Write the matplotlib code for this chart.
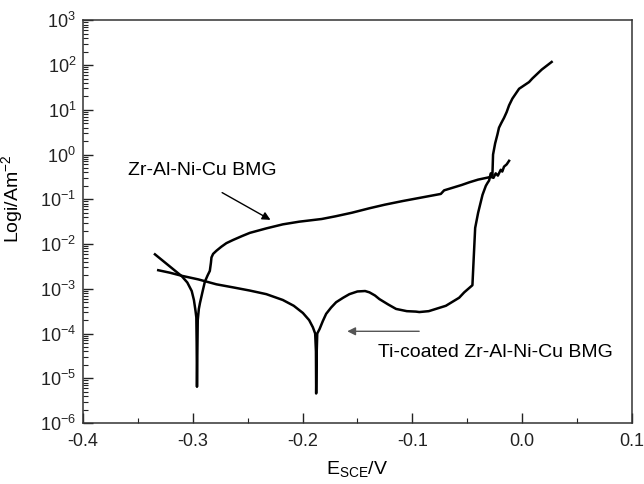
import numpy as np
import matplotlib
matplotlib.use("Agg")
import matplotlib.pyplot as plt

plt.rcParams['font.family'] = ['Liberation Sans', 'DejaVu Sans']
plt.rcParams['mathtext.fontset'] = 'custom'
plt.rcParams['mathtext.rm'] = 'Liberation Sans'
plt.rcParams['mathtext.it'] = 'Liberation Sans:italic'

# Uncoated Zr-Al-Ni-Cu BMG: potential (V vs SCE) and log10(i / A m^-2)
e_bmg = [-0.3345, -0.328, -0.321, -0.315, -0.310, -0.305, -0.301, -0.299, -0.2975,
         -0.2968, -0.2965, -0.2962, -0.2958, -0.2955, -0.2945, -0.2935, -0.291, -0.289,
         -0.2865, -0.2845, -0.2835, -0.283, -0.2815, -0.2785, -0.274, -0.2694, -0.2634,
         -0.255, -0.248, -0.233, -0.218, -0.203, -0.1825, -0.170, -0.155, -0.139, -0.125,
         -0.109, -0.085, -0.074, -0.071, -0.063, -0.055, -0.048, -0.040, -0.0285, -0.026,
         -0.024, -0.022, -0.0194, -0.018, -0.0164, -0.014, -0.0118]
logi_bmg = [-2.23, -2.36, -2.50, -2.62, -2.72, -2.86, -3.05, -3.25, -3.50,
            -3.64, -4.20, -5.19, -4.30, -3.70, -3.45, -3.32, -3.05, -2.84,
            -2.70, -2.60, -2.42, -2.30, -2.22, -2.15, -2.06, -1.98, -1.91,
            -1.82, -1.75, -1.65, -1.56, -1.50, -1.44, -1.38, -1.30, -1.20, -1.12,
            -1.04, -0.93, -0.88, -0.80, -0.74, -0.68, -0.62, -0.56, -0.50, -0.52,
            -0.42, -0.47, -0.34, -0.38, -0.27, -0.22, -0.14]

# Ti-coated Zr-Al-Ni-Cu BMG
e_ti = [-0.3315, -0.321, -0.310, -0.295, -0.2785, -0.263, -0.248, -0.233, -0.218,
        -0.208, -0.1997, -0.194, -0.1906, -0.1885, -0.1878, -0.1876, -0.1872, -0.1866,
        -0.1845, -0.1815, -0.1785, -0.174, -0.1694, -0.163, -0.1573, -0.150, -0.143,
        -0.139, -0.134, -0.130, -0.122, -0.1148, -0.105, -0.0967, -0.0936, -0.085,
        -0.0694, -0.0573, -0.0527, -0.0452, -0.0440, -0.0427, -0.040, -0.036, -0.033,
        -0.0316, -0.030, -0.0285, -0.027, -0.0264, -0.0245, -0.0224, -0.021, -0.019,
        -0.0164, -0.014, -0.0118, -0.0088, -0.0027, 0.0064, 0.0094, 0.018, 0.027]
logi_ti = [-2.585, -2.64, -2.71, -2.79, -2.90, -2.97, -3.04, -3.12, -3.25,
           -3.38, -3.54, -3.70, -3.86, -4.00, -4.40, -5.34, -4.50, -4.00,
           -3.90, -3.72, -3.56, -3.42, -3.30, -3.20, -3.12, -3.06, -3.05,
           -3.08, -3.15, -3.23, -3.35, -3.45, -3.50, -3.51, -3.52, -3.50,
           -3.38, -3.20, -3.08, -2.92, -2.30, -1.64, -1.30, -0.90, -0.70,
           -0.64, -0.58, -0.42, -0.47, 0.00, 0.25, 0.45, 0.60, 0.70,
           0.82, 0.95, 1.10, 1.25, 1.47, 1.62, 1.70, 1.90, 2.07]

label_bmg = "Zr-Al-Ni-Cu BMG"
label_ti = "Ti-coated Zr-Al-Ni-Cu BMG"

fig = plt.figure(figsize=(6.44, 4.84), dpi=100)
ax = fig.add_axes([0.129, 0.126, 0.852, 0.832])

ax.semilogy(e_bmg, 10 ** np.array(logi_bmg), color='black', lw=1.8)
ax.semilogy(e_ti, 10 ** np.array(logi_ti), color='black', lw=1.8)

ax.set_xlim(-0.4, 0.1)
ax.set_ylim(1e-6, 1e3)
ax.set_xticks([-0.4, -0.3, -0.2, -0.1, 0.0, 0.1])
ax.set_xticklabels(['-0.4', '-0.3', '-0.2', '-0.1', '0.0', '0.1'])
ax.set_xticks([-0.35, -0.25, -0.15, -0.05, 0.05], minor=True)
ax.set_yticks([10.0 ** k for k in range(-6, 4)])
ax.yaxis.set_minor_locator(matplotlib.ticker.LogLocator(base=10, subs=np.arange(2, 10), numticks=20))
ax.yaxis.set_minor_formatter(matplotlib.ticker.NullFormatter())

ax.tick_params(which='both', direction='in', top=False, right=False, labelsize=13, colors='#222222')
ax.tick_params(which='major', length=7, width=1)
ax.tick_params(which='minor', length=3.5, width=0.8)
ax.tick_params(axis='x', which='major', pad=7)
ax.tick_params(axis='y', which='major', pad=5)
for s in ax.spines.values():
    s.set_linewidth(1.1)
    s.set_color('#333333')

ax.set_xlabel(r'E$_{\mathregular{SCE}}$/V', fontsize=14, labelpad=7)
ax.set_ylabel(r'Logi/Am$^{\mathregular{-2}}$', fontsize=14)
ax.yaxis.set_label_coords(-0.106, 0.556)

ax.annotate('', xy=(-0.227, 10 ** -1.49), xytext=(-0.2755, 10 ** -0.82),
            arrowprops=dict(arrowstyle='-|>', color='black', lw=1.0, mutation_scale=12))
ax.text(-0.359, 10 ** -0.36, label_bmg, fontsize=14, ha='left', va='center')

ax.annotate('', xy=(-0.1618, 10 ** -3.95), xytext=(-0.0912, 10 ** -3.95),
            arrowprops=dict(arrowstyle='-|>', color='#555555', lw=1.0, mutation_scale=12))
ax.text(-0.1315, 10 ** -4.42, label_ti, fontsize=14, ha='left', va='center')

fig.savefig('out.png', dpi=100)
